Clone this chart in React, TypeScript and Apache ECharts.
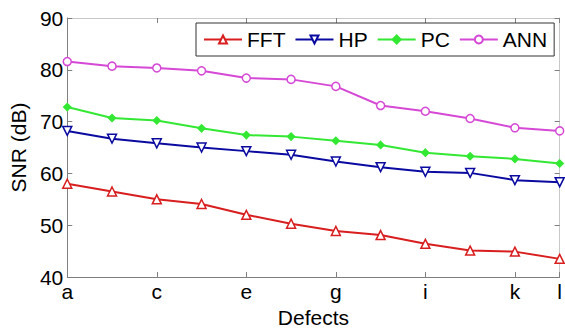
import React, { useEffect, useRef } from "react";
import * as echarts from "echarts";

const categories = ["a", "b", "c", "d", "e", "f", "g", "h", "i", "j", "k", "l"];
const fft = [58.0, 56.5, 55.0, 54.1, 52.0, 50.3, 48.9, 48.1, 46.4, 45.1, 44.9, 43.5];
const hp = [68.2, 66.7, 65.8, 65.0, 64.3, 63.6, 62.3, 61.2, 60.3, 60.1, 58.7, 58.3];
const pc = [72.8, 70.7, 70.2, 68.7, 67.4, 67.1, 66.3, 65.5, 64.0, 63.3, 62.8, 61.9];
const ann = [81.6, 80.7, 80.35, 79.8, 78.4, 78.15, 76.8, 73.1, 72.0, 70.6, 68.8, 68.2];
const yTicks = [40, 50, 60, 70, 80, 90];

const FONT = "Arial, 'Liberation Sans', sans-serif";
const FS = 21;

export default function App() {
  const ref = useRef<HTMLDivElement>(null);
  useEffect(() => {
    if (!ref.current) return;
    const chart = echarts.init(ref.current, undefined, { renderer: "svg" });
    const showIdx = (idx: number) => idx % 2 === 0 || idx === categories.length - 1;
    const axisLineStyle = { color: "#808080", width: 1 };
    const mk = (name: string, data: number[], color: string, symbol: string, size: number, rotate: number, filled: boolean) => ({
      name,
      type: "line",
      data,
      symbol,
      symbolSize: size,
      symbolRotate: rotate,
      lineStyle: { color, width: 2 },
      itemStyle: { color: filled ? color : "#ffffff", borderColor: color, borderWidth: 1.5 },
      emphasis: { disabled: true },
    });
    chart.setOption({
      animation: false,
      backgroundColor: "#ffffff",
      textStyle: { fontFamily: FONT },
      grid: { left: 67, right: 2, top: 18, bottom: 50 },
      legend: {
        left: 196,
        top: 23,
        orient: "horizontal",
        backgroundColor: "#ffffff",
        borderColor: "#333333",
        borderWidth: 1,
        padding: [6, 7, 6, 7],
        itemGap: 9,
        itemWidth: 38,
        itemHeight: 10,
        textStyle: { fontSize: FS, color: "#000", fontFamily: FONT },
        data: ["FFT", "HP", "PC", "ANN"],
      },
      xAxis: [
        {
          type: "category",
          data: categories,
          boundaryGap: false,
          name: "Defects",
          nameLocation: "middle",
          nameGap: 30,
          nameTextStyle: { fontSize: FS, color: "#000", fontFamily: FONT },
          axisLine: { lineStyle: axisLineStyle },
          axisTick: { inside: true, length: 5, interval: (i: number) => showIdx(i), lineStyle: axisLineStyle },
          axisLabel: { interval: (i: number) => showIdx(i), fontSize: FS, color: "#000", margin: 4, fontFamily: FONT },
          splitLine: { show: false },
        },
        {
          type: "category",
          data: categories,
          boundaryGap: false,
          position: "top",
          axisLine: { lineStyle: { color: "#c8c8c8", width: 1 } },
          axisTick: { inside: true, length: 5, interval: (i: number) => showIdx(i), lineStyle: axisLineStyle },
          axisLabel: { show: false },
          splitLine: { show: false },
        },
      ],
      yAxis: [
        {
          type: "value",
          min: 40,
          max: 90,
          interval: 10,
          name: "SNR (dB)",
          nameLocation: "middle",
          nameGap: 37,
          nameTextStyle: { fontSize: FS, color: "#000", fontFamily: FONT },
          axisLine: { show: true, lineStyle: axisLineStyle },
          axisTick: { show: true, inside: true, length: 5, lineStyle: axisLineStyle },
          axisLabel: {
            fontSize: FS,
            color: "#000",
            margin: 4,
            fontFamily: FONT,
            formatter: (v: number) => (yTicks.includes(v) ? String(v) : ""),
          },
          splitLine: { show: false },
        },
        {
          type: "value",
          min: 40,
          max: 90,
          interval: 10,
          position: "right",
          axisLine: { show: true, lineStyle: { color: "#c8c8c8", width: 1 } },
          axisTick: { show: true, inside: true, length: 5, lineStyle: axisLineStyle },
          axisLabel: { show: false },
          splitLine: { show: false },
        },
      ],
      series: [
        mk("FFT", fft, "#d81e1e", "triangle", 9, 0, false),
        mk("HP", hp, "#0a0aa0", "triangle", 9, 180, false),
        mk("PC", pc, "#33e833", "diamond", 7, 0, true),
        mk("ANN", ann, "#d648d6", "circle", 8, 0, false),
      ],
    });
    return () => chart.dispose();
  }, []);
  return <div ref={ref} style={{ width: 565, height: 333, position: "absolute", left: 0, top: 0 }} />;
}
